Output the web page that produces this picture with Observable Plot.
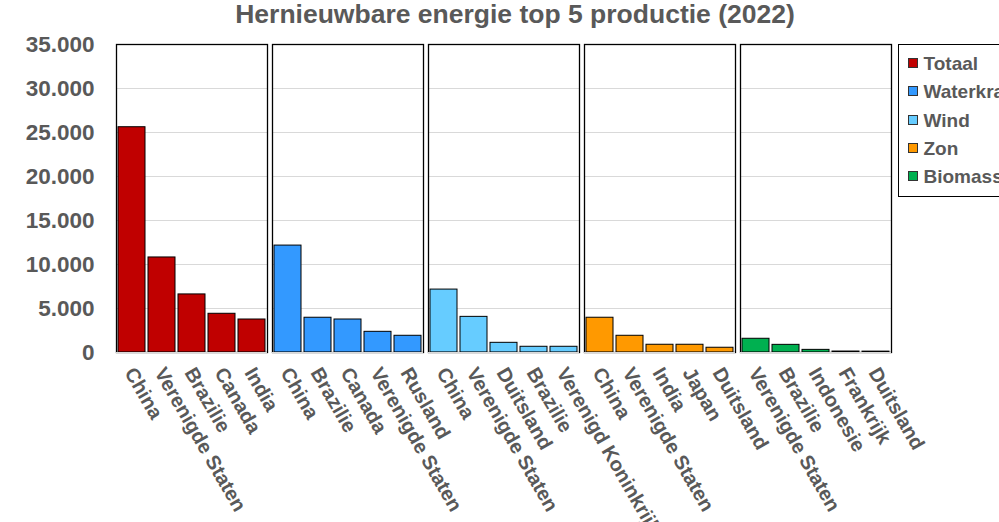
<!DOCTYPE html>
<html>
<head>
<meta charset="utf-8">
<script src="https://cdn.jsdelivr.net/npm/d3@7"></script>
<script src="https://cdn.jsdelivr.net/npm/@observablehq/plot@0.6"></script>
<style>
  html, body { margin: 0; padding: 0; background: #fff; overflow: hidden; }
  #wrap { position: relative; width: 999px; height: 522px; overflow: hidden; font-family: "Liberation Sans", Arial, sans-serif; }
  #title { position: absolute; left: 515px; top: 0; transform: translateX(-50%); white-space: nowrap;
           font-size: 26.5px; line-height: 28px; font-weight: bold; color: #595959; }
  #chart { position: absolute; left: 0; top: 30px; }
  #legend { position: absolute; left: 898px; top: 44px; width: 130px; height: 153px; box-sizing: border-box;
            border: 1.5px solid #000; padding-top: 5px; background: #fff; }
  .item { height: 28.33px; line-height: 28.33px; white-space: nowrap; font-size: 19px; font-weight: bold; color: #595959; }
  .sw { display: inline-block; width: 10px; height: 10px; box-sizing: border-box; border: 1px solid #333;
        margin-left: 8.5px; margin-right: 6px; vertical-align: middle; position: relative; top: -2px; }
</style>
</head>
<body>
<div id="wrap">
  <div id="title">Hernieuwbare energie top 5 productie (2022)</div>
  <div id="chart"></div>
  <div id="legend"></div>
</div>
<script>
// Data
const groups = ["Totaal", "Waterkracht", "Wind", "Zon", "Biomassa"];
const colors = ["#C00000", "#3399FF", "#66CCFF", "#FF9900", "#00B050"];

const totaalLanden = ["China", "Verenigde Staten", "Brazilie", "Canada", "India"];
const totaalWaarden = [25600, 10800, 6600, 4400, 3750];

const waterLanden = ["China", "Brazilie", "Canada", "Verenigde Staten", "Rusland"];
const waterWaarden = [12150, 3950, 3750, 2350, 1900];

const windLanden = ["China", "Verenigde Staten", "Duitsland", "Brazilie", "Verenigd Koninkrijk"];
const windWaarden = [7150, 4050, 1100, 650, 650];

const zonLanden = ["China", "Verenigde Staten", "India", "Japan", "Duitsland"];
const zonWaarden = [3950, 1900, 880, 880, 540];

const bioLanden = ["Verenigde Staten", "Brazilie", "Indonesie", "Frankrijk", "Duitsland"];
const bioWaarden = [1560, 870, 300, 110, 100];

const yTicks = [0, 5000, 10000, 15000, 20000, 25000, 30000, 35000];

const landen = [totaalLanden, waterLanden, windLanden, zonLanden, bioLanden];
const waarden = [totaalWaarden, waterWaarden, windWaarden, zonWaarden, bioWaarden];

const table = [];
groups.forEach((g, gi) => {
  landen[gi].forEach((c, i) => {
    table.push({group: g, rank: i, country: c, value: waarden[gi][i]});
  });
});

const nl = d3.formatLocale({decimal: ",", thousands: ".", grouping: [3], currency: ["€", ""]});
const fmt = nl.format(",d");

const textColor = "#595959";

const chart = Plot.plot({
  width: 999,
  height: 492,
  marginTop: 14,
  marginBottom: 170,
  marginLeft: 114,
  marginRight: 106,
  style: {fontFamily: "'Liberation Sans', Arial, sans-serif", background: "transparent", overflow: "visible"},
  fx: {domain: groups, paddingInner: 0.03, paddingOuter: 0, axis: null, label: null},
  x: {domain: [0, 1, 2, 3, 4], paddingInner: 0.085, paddingOuter: 0.005, axis: null},
  y: {domain: [0, 35000], axis: null},
  color: {domain: groups, range: colors},
  marks: [
    Plot.gridY(yTicks, {stroke: "#D9D9D9", strokeOpacity: 1, strokeWidth: 1}),
    Plot.barY(table, {fx: "group", x: "rank", y: "value", fill: "group", stroke: "#000", strokeWidth: 1}),
    Plot.frame({stroke: "#000", strokeWidth: 1.3}),
    Plot.ruleY([0], {stroke: "#D9D9D9", strokeWidth: 1.2}),
    Plot.axisY({ticks: yTicks, tickFormat: fmt, tickSize: 0, tickPadding: 22, fontSize: 22.5, fontWeight: "bold", fill: textColor, label: null}),
    Plot.text(table, {fx: "group", x: "rank", text: "country", frameAnchor: "bottom",
      rotate: 60, textAnchor: "start", lineAnchor: "bottom", dx: -8, dy: 20,
      fontSize: 20, fontWeight: "bold", fill: textColor})
  ]
});
document.getElementById("chart").appendChild(chart);

const legend = document.getElementById("legend");
groups.forEach((g, i) => {
  const row = document.createElement("div");
  row.className = "item";
  const sw = document.createElement("span");
  sw.className = "sw";
  sw.style.background = colors[i];
  row.appendChild(sw);
  row.appendChild(document.createTextNode(g));
  legend.appendChild(row);
});
</script>
</body>
</html>
